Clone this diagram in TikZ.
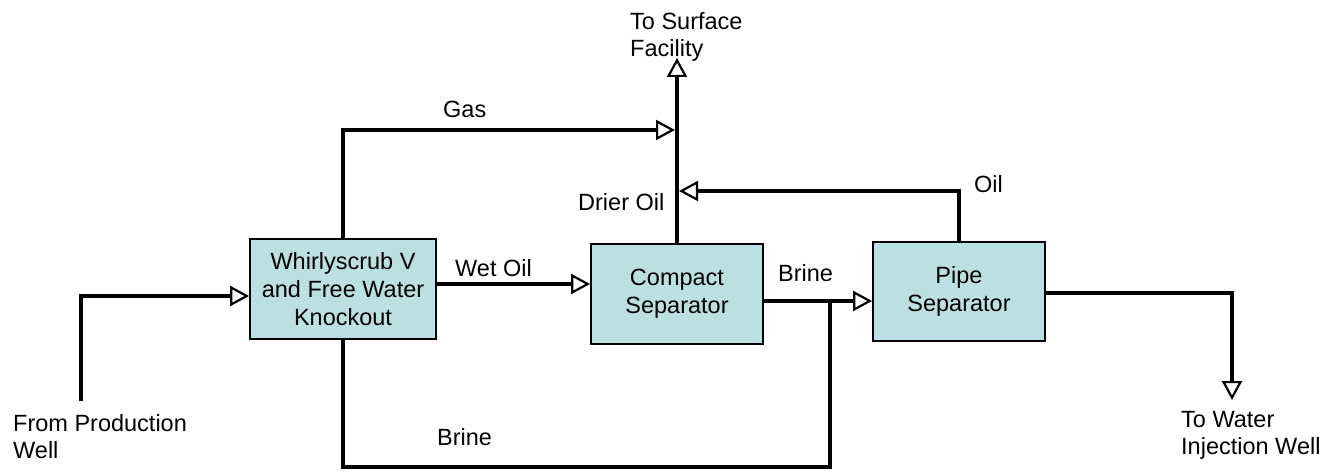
\documentclass[tikz,border=0pt]{standalone}
\usepackage{fontspec}
\setmainfont{Liberation Sans}
\usetikzlibrary{arrows.meta,calc}
\definecolor{boxfill}{RGB}{187,224,227}
\tikzset{
  unitbox/.style={draw=black, line width=1.8pt, fill=boxfill, minimum height=100pt,
    minimum width=172pt, align=center, inner sep=0pt, font=\fontsize{23.5}{28}\selectfont},
  pipe/.style={draw=black, line width=3.3pt},
  flow/.style={pipe, -{Triangle[open, fill=white, length=19pt, width=20pt, line width=2.2pt]}},
  lbl/.style={inner sep=0pt, font=\fontsize{23.5}{27.5}\selectfont, align=left}
}
\begin{document}
\begin{tikzpicture}[x=1pt,y=-1pt]
\useasboundingbox (0,0) rectangle (1333,473);
% units
\node[unitbox, minimum width=186pt] (wsk) at (343,289) {Whirlyscrub V\\and Free Water\\Knockout};
\node[unitbox] (csep) at (677,294) {Compact\\Separator};
\node[unitbox, minimum height=99pt] (psep) at (959,291.5) {Pipe\\Separator};
% free ends
\coordinate (inlet) at (81,401);
\coordinate (gasend) at (675,130);
\coordinate (surf) at (677,58);
\coordinate (oilend) at (679,191);
\coordinate (bot) at (830,467);
\coordinate (wout) at (1232,400);
% connectors
\draw[flow] (inlet) |- ([yshift=-7pt]wsk.west);
\draw[flow] ([yshift=5pt]wsk.east) coordinate (wo) -- (wo -| csep.west);
\draw[flow] (wsk.north) |- (gasend);
\draw[flow] (csep.north) -- (surf);
\draw[flow] (psep.north) |- (oilend);
\draw[flow] ([yshift=-7pt]csep.east) coordinate (br) -- (br -| psep.west);
\draw[pipe] (wsk.south) |- (bot) -- (bot |- br);
\draw[flow] ([yshift=-1.5pt]psep.east) -| (wout);
% labels
\node[lbl, anchor=north west] (tsf) at (630,12) {To Surface\\Facility};
\node[lbl, anchor=base west] (lgas) at (443,118) {Gas};
\node[lbl, anchor=base west] (lwet) at (455,276) {Wet Oil};
\node[lbl, anchor=base west] (ldry) at (578,211) {Drier Oil};
\node[lbl, anchor=base west] (loil) at (974,193) {Oil};
\node[lbl, anchor=base west] (lbr1) at (778,281) {Brine};
\node[lbl, anchor=base west] (lbr2) at (437,445) {Brine};
\node[lbl, anchor=north west] (lfpw) at (13,414) {From Production\\Well};
\node[lbl, anchor=north west] (ltwi) at (1181,411) {To Water\\Injection Well};
\end{tikzpicture}
\end{document}
